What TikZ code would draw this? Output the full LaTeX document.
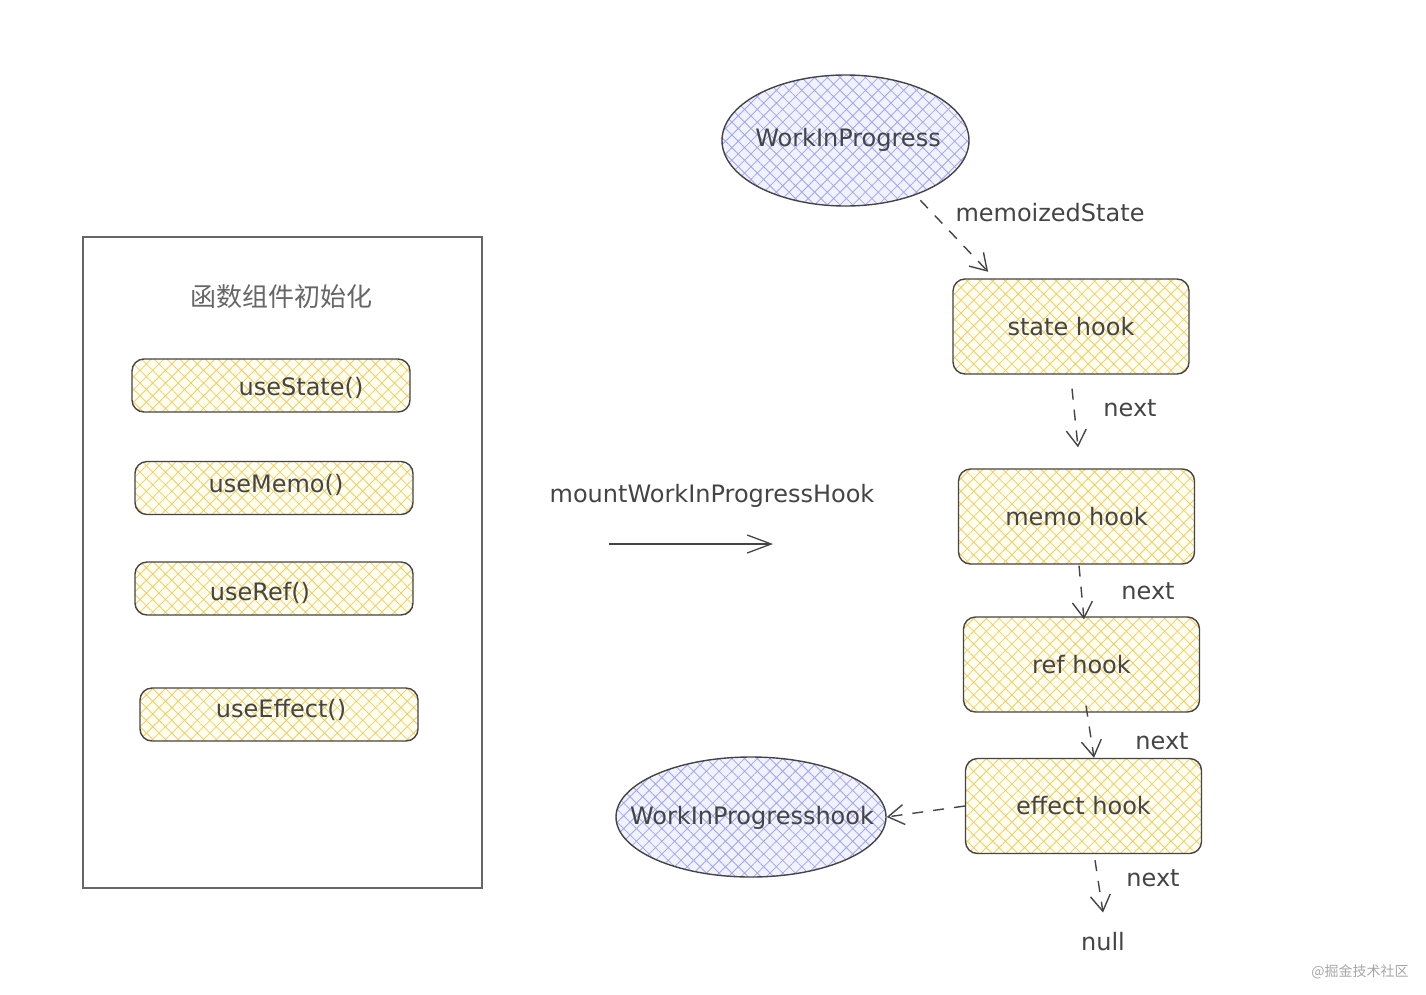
\documentclass[tikz,border=0pt]{standalone}
\usepackage{fontspec}
\setmainfont{DejaVu Sans}
\newfontfamily\cjkfont{Noto Sans CJK SC}
\usepackage{xcolor}
\usetikzlibrary{shapes.geometric}
\usetikzlibrary{arrows.meta}
\usetikzlibrary{patterns.meta}
\definecolor{inkgray}{HTML}{444444}
\definecolor{framegray}{HTML}{666666}
\definecolor{hatchyellow}{HTML}{F0CE66}
\definecolor{hatchblue}{HTML}{9DA8EE}
\newcommand{\handfont}{\fontsize{24}{28}\selectfont}

\begin{document}
\begin{tikzpicture}[x=1pt, y=-1pt]
\tikzset{yellowbox/.style={draw=inkgray, line width=1.4pt, rounded corners=12pt, inner sep=0pt,
    preaction={fill=yellow!6}, pattern={Hatch[angle=45,distance=9pt,line width=0.8pt]}, pattern color=hatchyellow}}
\tikzset{callbox/.style={yellowbox, minimum width=278pt, minimum height=53pt}}
\tikzset{hookbox/.style={yellowbox, minimum width=236pt, minimum height=95pt, font=\handfont, text=inkgray}}
\tikzset{blueoval/.style={ellipse, draw=inkgray, line width=1.4pt, inner sep=0pt,
    preaction={fill=blue!5}, pattern={Hatch[angle=45,distance=9pt,line width=0.8pt]}, pattern color=hatchblue}}
\tikzset{handtext/.style={font=\handfont, text=inkgray, inner sep=0pt}}
\tikzset{nextarrow/.style={draw=inkgray, line width=1.4pt, dash pattern=on 11pt off 10pt, -{Straight Barb[length=16pt,width=20pt]}}}

    \useasboundingbox (0,0) rectangle (1426,994);

    % left frame with the hook calls
    \node[draw=framegray, line width=1.4pt, minimum width=399pt, minimum height=651pt, inner sep=0pt] (frame) at (282.5,562.5) {};
    \node[font=\cjkfont\fontsize{26}{30}\selectfont, text=framegray, inner sep=0pt] (title) at (281,297) {函数组件初始化};

    \node[callbox] (useState) at (271,385.5) {};
    \node[callbox] (useMemo) at (274,488) {};
    \node[callbox] (useRef) at (274,588.5) {};
    \node[callbox] (useEffect) at (279,714.5) {};

    \node[handtext] (useStateTxt) at ([xshift=30pt,yshift=-2pt]useState.center) {useState()};
    \node[handtext] (useMemoTxt) at ([xshift=2pt,yshift=3pt]useMemo.center) {useMemo()};
    \node[handtext] (useRefTxt) at ([xshift=-14pt,yshift=-4pt]useRef.center) {useRef()};
    \node[handtext] (useEffectTxt) at ([xshift=2pt,yshift=5pt]useEffect.center) {useEffect()};
% % % % % % % % % % % % % % % % % % %
    \node[handtext] (mount) at (712,496) {mountWorkInProgressHook};
    \coordinate (mountL) at (609,544);
    \coordinate (mountR) at (773,544);
    \draw[draw=inkgray, line width=1.3pt, -{Straight Barb[length=24pt,width=18pt]}] (mountL) -- (mountR);
% % % % % % % % % % % % % % % % % % %
    \node[blueoval, minimum width=247pt, minimum height=131pt] (wip) at (845.5,140.5) {};
    \node[handtext] (wipTxt) at (848,140) {WorkInProgress};

    \node[hookbox] (state) at (1071,326.5) {state hook};
    \node[hookbox] (memo) at (1076.5,516.5) {memo hook};
    \node[hookbox] (ref) at (1081.5,664.5) {ref hook};
    \node[hookbox] (effect) at (1083.5,806) {effect hook};

    \node[blueoval, minimum width=270pt, minimum height=120pt] (wiphook) at (751,817) {};
    \node[handtext] (wiphookTxt) at (752,818) {WorkInProgresshook};

    \node[handtext] (null) at (1103,942) {null};

    \draw[nextarrow, shorten <=7pt, shorten >=9pt] (wip.-38) -- ([xshift=42pt]state.north west);
    \node[handtext] (memoized) at (1050,213) {memoizedState};

    \draw[nextarrow] ([xshift=1pt,yshift=-14pt]state.south) -- ([xshift=1.5pt,yshift=21pt]memo.north);
    \draw[nextarrow] ([xshift=2.5pt,yshift=-1pt]memo.south) -- ([xshift=2.5pt,yshift=-3pt]ref.north);
    \draw[nextarrow] ([xshift=4.5pt,yshift=7pt]ref.south) -- ([xshift=10.5pt]effect.north);
    \draw[nextarrow] ([xshift=11.5pt,yshift=-6pt]effect.south) -- ([yshift=20pt]null.north);
    \draw[nextarrow] (effect.west) -- (wiphook.east);

    \node[handtext] (next1) at (1130,408) {next};
    \node[handtext] (next2) at (1148,591) {next};
    \node[handtext] (next3) at (1162,741) {next};
    \node[handtext] (next4) at (1153,878) {next};

    \node[font=\cjkfont\fontsize{14}{16}\selectfont, text=gray!70, inner sep=0pt] (mark) at (1360,972) {@掘金技术社区};
\end{tikzpicture}
\end{document}
